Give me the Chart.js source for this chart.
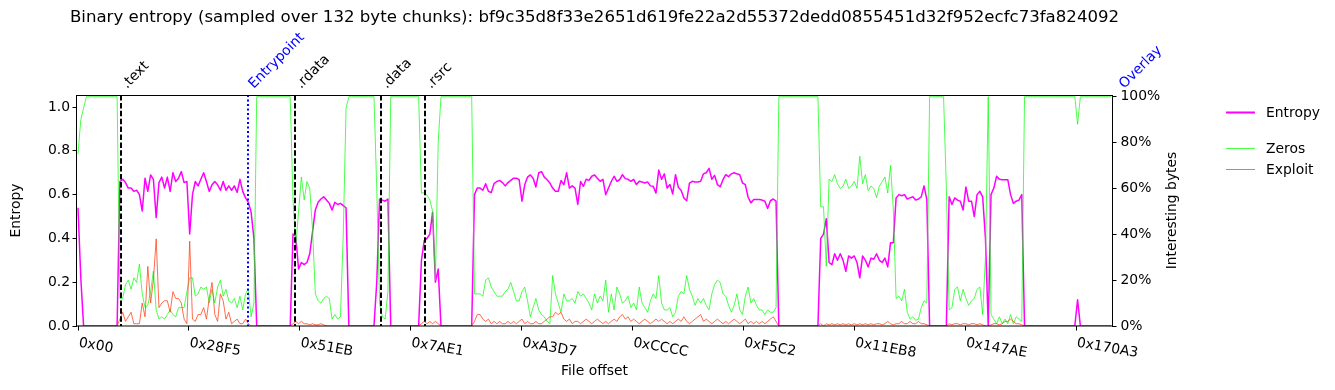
<!DOCTYPE html>
<html>
<head>
<meta charset="utf-8">
<script src="https://cdn.jsdelivr.net/npm/chart.js@4.4.1/dist/chart.umd.min.js"></script>
<style>
  html, body { margin: 0; padding: 0; background: #fff; }
</style>
</head>
<body>
<canvas id="chart" width="1335" height="390"></canvas>
<script>
// Values, one every second 132-byte chunk
const CHUNK_SIZE = 132;
const SAMPLE_STEP = 2 * CHUNK_SIZE;
const FILE_HASH = "bf9c35d8f33e2651d619fe22a2d55372dedd0855451d32f952ecfc73fa824092";

// Entropy (0..1), left axis
const ENTROPY = [
  0.54, 0.22, 0, 0, 0, 0, 0, 0, 0, 0,
  0, 0, 0, 0, 0, 0.66, 0.67, 0.655, 0.63, 0.63,
  0.615, 0.62, 0.6, 0.525, 0.675, 0.615, 0.69, 0.67, 0.495, 0.655,
  0.68, 0.63, 0.68, 0.615, 0.7, 0.66, 0.675, 0.705, 0.655, 0.66,
  0.42, 0.6, 0.66, 0.64, 0.67, 0.7, 0.66, 0.615, 0.645, 0.66,
  0.645, 0.62, 0.66, 0.62, 0.64, 0.62, 0.64, 0.61, 0.67, 0.615,
  0.585, 0.565, 0.52, 0.4, 0, 0, 0, 0, 0, 0,
  0, 0, 0, 0, 0, 0, 0, 0.42, 0.41, 0.26,
  0.29, 0.28, 0.29, 0.33, 0.43, 0.53, 0.565, 0.58, 0.59, 0.575,
  0.56, 0.53, 0.565, 0.555, 0.56, 0.55, 0.54, 0, 0, 0,
  0, 0, 0, 0, 0, 0, 0, 0.2, 0.58, 0.575,
  0.57, 0.58, 0, 0, 0, 0, 0, 0, 0, 0,
  0, 0, 0, 0.3, 0.39, 0.4, 0.42, 0.52, 0.2, 0.26,
  0, 0, 0, 0, 0, 0, 0, 0, 0, 0,
  0, 0, 0.6, 0.63, 0.63, 0.62, 0.65, 0.615, 0.61, 0.65,
  0.66, 0.665, 0.655, 0.64, 0.655, 0.665, 0.675, 0.675, 0.668, 0.57,
  0.645, 0.68, 0.69, 0.675, 0.635, 0.7, 0.705, 0.68, 0.668, 0.653,
  0.63, 0.615, 0.615, 0.665, 0.645, 0.7, 0.63, 0.64, 0.63, 0.555,
  0.66, 0.638, 0.67, 0.665, 0.684, 0.69, 0.675, 0.661, 0.67, 0.6,
  0.63, 0.66, 0.684, 0.661, 0.668, 0.691, 0.673, 0.67, 0.661, 0.67,
  0.646, 0.661, 0.658, 0.653, 0.658, 0.64, 0.638, 0.607, 0.712, 0.67,
  0.695, 0.63, 0.646, 0.603, 0.691, 0.634, 0.62, 0.585, 0.572, 0.653,
  0.661, 0.658, 0.658, 0.661, 0.695, 0.7, 0.72, 0.67, 0.688, 0.646,
  0.636, 0.668, 0.691, 0.682, 0.695, 0.7, 0.695, 0.691, 0.653, 0.646,
  0.588, 0.562, 0.578, 0.578, 0.578, 0.575, 0.57, 0.537, 0.572, 0.58,
  0.57, 0, 0, 0, 0, 0, 0, 0, 0, 0,
  0, 0, 0, 0, 0, 0, 0.4, 0.42, 0.49, 0.29,
  0.28, 0.33, 0.3, 0.33, 0.3, 0.25, 0.32, 0.31, 0.32, 0.29,
  0.22, 0.32, 0.3, 0.27, 0.31, 0.305, 0.33, 0.3, 0.29, 0.31,
  0.27, 0.38, 0.38, 0.585, 0.6, 0.595, 0.6, 0.58, 0.585, 0.59,
  0.575, 0.58, 0.59, 0.64, 0.578, 0, 0, 0, 0, 0,
  0, 0, 0.59, 0.555, 0.585, 0.575, 0.57, 0.53, 0.635, 0.57,
  0.57, 0.5, 0.6, 0.615, 0.59, 0.4, 0, 0.6, 0.63, 0.684,
  0.67, 0.668, 0.668, 0.668, 0.6, 0.56, 0.57, 0.575, 0.6, 0,
  0, 0, 0, 0, 0, 0, 0, 0, 0, 0,
  0, 0, 0, 0, 0, 0, 0, 0, 0.12, 0,
  0, 0, 0, 0, 0, 0, 0, 0, 0, 0,
  0
];

// Zero bytes (%), right axis
const ZEROS = [
  75, 90, 95, 100, 100, 100, 100, 100, 100, 100,
  100, 100, 100, 100, 100, 12, 12, 18, 20, 16,
  21, 19, 27, 14, 8, 9, 15, 24, 7, 3,
  4, 3, 5, 7, 5, 4, 8, 8, 8, 15,
  21, 21, 13, 14, 17, 16, 17, 10, 16, 10,
  17, 20, 13, 16, 11, 10, 12, 8, 13, 7,
  14, 16, 4, 10, 100, 100, 100, 100, 100, 100,
  100, 100, 100, 100, 100, 100, 100, 55, 35, 50,
  65, 55, 63, 60, 42, 14, 11, 10, 12, 13,
  12, 3, 5, 3, 4, 40, 95, 100, 100, 100,
  100, 100, 100, 100, 100, 100, 100, 60, 10, 4,
  3, 15, 100, 100, 100, 100, 100, 100, 100, 100,
  100, 100, 100, 58, 58, 57, 55, 50, 20, 80,
  100, 100, 100, 100, 100, 100, 100, 100, 100, 100,
  100, 100, 14, 14, 14, 13, 20, 21, 17, 15,
  13, 13, 13, 15, 16, 19, 15, 11, 11, 15,
  17, 11, 4, 8, 12, 7, 5, 4, 2, 1,
  22, 14, 10, 6, 14, 11, 11, 12, 10, 15,
  13, 14, 12, 10, 7, 14, 10, 13, 11, 20,
  6, 14, 7, 17, 14, 10, 11, 13, 8, 10,
  7, 17, 10, 8, 6, 11, 14, 12, 22, 10,
  7, 7, 8, 4, 6, 13, 15, 14, 22, 16,
  13, 9, 12, 10, 12, 9, 7, 14, 18, 20,
  19, 14, 13, 9, 6, 9, 14, 7, 5, 13,
  17, 10, 12, 9, 7, 7, 5, 7, 6, 6,
  8, 100, 100, 100, 100, 100, 100, 100, 100, 100,
  100, 100, 100, 100, 100, 100, 52, 52, 26, 64,
  63, 66, 62, 60, 61, 64, 60, 61, 63, 60,
  74, 62, 66, 59, 61, 60, 56, 61, 63, 65,
  58, 70, 51, 12, 13, 11, 16, 6, 3, 4,
  2.5, 3, 8, 11, 10, 100, 100, 100, 100, 100,
  100, 60, 7, 8, 16, 17, 11, 16, 12, 9,
  11, 12, 16, 17, 5, 30, 100, 5, 3, 1,
  4, 1, 3, 1, 5, 1, 4, 3, 2, 100,
  100, 100, 100, 100, 100, 100, 100, 100, 100, 100,
  100, 100, 100, 100, 100, 100, 100, 100, 88, 100,
  100, 100, 100, 100, 100, 100, 100, 100, 100, 100,
  100
];

// Exploit-like bytes (%), right axis
const EXPLOIT = [
  0, 0, 0, 0, 0, 0, 0, 0, 0, 0,
  0, 0, 0, 0, 0, 3, 6, 2, 4, 6,
  1, 1, 1, 10, 4, 26, 10, 20, 38, 8,
  10, 11, 11, 6, 15, 12, 12, 10, 3, 1,
  37, 3, 2, 5, 5, 8, 3, 12, 19, 5,
  2, 14, 11, 3, 6, 1, 2, 3, 1, 1,
  3, 1, 0, 0, 0, 0, 0, 0, 0, 0,
  0, 0, 0, 0, 0, 0, 0, 1, 2, 1,
  2, 1, 1, 0.5, 1, 0.5, 0.5, 1, 0.5, 0,
  0, 0, 0, 0, 0, 0, 0, 0, 0, 0,
  0, 0, 0, 0, 0, 0, 0, 0, 0, 0,
  0, 0, 0, 0, 0, 0, 0, 0, 0, 0,
  0, 0, 0, 1, 2, 1, 2, 1, 2, 1,
  0, 0, 0, 0, 0, 0, 0, 0, 0, 0,
  0, 0, 2, 5, 5, 3, 2, 3, 1, 2,
  1, 2, 1, 1, 2, 1, 2, 1, 2, 3,
  1, 2, 1, 1, 2, 1, 1, 2, 3, 4,
  4, 6, 5, 6, 3, 2, 3, 1, 2, 2,
  1, 2, 3, 2, 1, 2, 3, 2, 1, 2,
  1, 2, 3, 2, 4, 5, 3, 4, 2, 3,
  2, 1, 2, 3, 2, 1, 2, 3, 2, 3,
  2, 1, 2, 1, 2, 3, 2, 4, 2, 1,
  2, 3, 4, 5, 2, 3, 2, 1, 2, 3,
  2, 1, 2, 1, 2, 3, 2, 1, 2, 3,
  1, 2, 1, 2, 1, 2, 1, 2, 3, 4,
  2, 0, 0, 0, 0, 0, 0, 0, 0, 0,
  0, 0, 0, 0, 0, 0, 1, 0, 1, 0.5,
  1, 0.5, 1, 0.5, 1, 0.5, 1, 0.5, 1, 0.5,
  1, 0.5, 1, 0.5, 1, 0.5, 1, 1, 0.5, 1,
  2, 1, 0.5, 1, 1, 2, 1, 1, 2, 1,
  1, 2, 1, 1, 0.5, 0, 0, 0, 0, 0,
  0, 0, 1, 0.5, 1, 1, 0.5, 1, 1, 0.5,
  1, 1, 0.5, 1, 0.5, 0, 0, 0.5, 1, 1,
  0.5, 1, 2, 2, 3, 2, 1, 1, 0.5, 0,
  0, 0, 0, 0, 0, 0, 0, 0, 0, 0,
  0, 0, 0, 0, 0, 0, 0, 0, 0, 0,
  0, 0, 0, 0, 0, 0, 0, 0, 0, 0,
  0
];

const X_TICK_LABELS = ["0x00", "0x28F5", "0x51EB", "0x7AE1", "0xA3D7", "0xCCCC", "0xF5C2", "0x11EB8", "0x147AE", "0x170A3"];
const ENTROPY_TICKS = [0, 0.2, 0.4, 0.6, 0.8, 1.0];
const PERCENT_TICKS = [0, 20, 40, 60, 80, 100];

// Section starts (byte offsets)
const SECTION_NAMES = [".text", ".rdata", ".data", ".rsrc"];
const SECTION_OFFSETS = [4060, 20517, 28620, 32809];
const ENTRYPOINT_OFFSET = 16045;
const OVERLAY_OFFSET = 98350;

const ENTROPY_COLOR = "#ff00ff";
const ZEROS_COLOR = "rgba(0,255,0,0.7)";
const EXPLOIT_COLOR = "rgba(255,60,20,0.75)";
const FONT = "'DejaVu Sans', sans-serif";

Chart.defaults.font.family = FONT;
Chart.defaults.font.size = 13.9;
Chart.defaults.color = "#000";

const toPoints = (values) => values.map((v, i) => ({ x: i * SAMPLE_STEP, y: v }));

const tickGrid = { drawOnChartArea: false, drawTicks: true, tickLength: 4.5, tickWidth: 1, tickColor: "#000" };

//Draws frame, section markers, rotated labels, title and legend
const decorations = {
  id: "decorations",
  afterDatasetsDraw(chart) {
    const { ctx, chartArea: a, scales: { x } } = chart;
    ctx.save();
    ctx.lineWidth = 2;
    ctx.strokeStyle = "#000";
    ctx.setLineDash([5.5, 2.4]);
    SECTION_OFFSETS.forEach((off) => {
      const px = Math.round(x.getPixelForValue(off));
      ctx.beginPath();
      ctx.moveTo(px, a.top);
      ctx.lineTo(px, a.bottom);
      ctx.stroke();
    });
    ctx.strokeStyle = "#0000ff";
    ctx.setLineDash([2, 2.5]);
    const ep = Math.round(x.getPixelForValue(ENTRYPOINT_OFFSET));
    ctx.beginPath();
    ctx.moveTo(ep, a.top);
    ctx.lineTo(ep, a.bottom);
    ctx.stroke();
    ctx.restore();
  },
  afterDraw(chart) {
    const { ctx, chartArea: a, scales: { x } } = chart;
    ctx.save();

    // frame
    ctx.lineWidth = 1;
    ctx.strokeStyle = "#000";
    ctx.strokeRect(Math.round(a.left) - 0.5, Math.round(a.top) + 0.5, Math.round(a.right - a.left) + 1, Math.round(a.bottom - a.top) - 0.5);

    // section labels, rotated 45 degrees
    ctx.font = "13.9px " + FONT;
    ctx.textAlign = "left";
    ctx.textBaseline = "alphabetic";
    const marks = SECTION_NAMES.map((n, i) => [n, SECTION_OFFSETS[i], "#000"]);
    marks.push(["Entrypoint", ENTRYPOINT_OFFSET, "#0000ff"]);
    marks.push(["Overlay", OVERLAY_OFFSET, "#0000ff"]);
    marks.forEach(([name, off, color]) => {
      ctx.save();
      ctx.fillStyle = color;
      ctx.translate(x.getPixelForValue(off) + 6, a.top - 6);
      ctx.rotate(-Math.PI / 4);
      ctx.fillText(name, 0, 0);
      ctx.restore();
    });

    // x tick labels, tilted clockwise
    ctx.fillStyle = "#000";
    ctx.textBaseline = "top";
    X_TICK_LABELS.forEach((label) => {
      ctx.save();
      ctx.translate(x.getPixelForValue(parseInt(label, 16)) + 2, a.bottom + 10);
      ctx.rotate(10 * Math.PI / 180);
      ctx.fillText(label, 0, 0);
      ctx.restore();
    });

    // right axis title
    ctx.save();
    ctx.translate(1172, (a.top + a.bottom) / 2);
    ctx.rotate(-Math.PI / 2);
    ctx.textAlign = "center";
    ctx.textBaseline = "middle";
    ctx.fillText("Interesting bytes", 0, 0);
    ctx.restore();

    // title
    ctx.font = "16.6px " + FONT;
    ctx.textAlign = "center";
    ctx.textBaseline = "middle";
    ctx.fillText("Binary entropy (sampled over " + CHUNK_SIZE + " byte chunks): " + FILE_HASH, (a.left + a.right) / 2, 18);

    // legend
    const legend = [
      ["Entropy", ENTROPY_COLOR, 2, 112.5],
      ["Zeros", ZEROS_COLOR, 1, 148.5],
      ["Exploit", EXPLOIT_COLOR, 1, 169.5],
    ];
    ctx.font = "13.9px " + FONT;
    ctx.textAlign = "left";
    legend.forEach(([label, color, w, y]) => {
      ctx.strokeStyle = color;
      ctx.lineWidth = w;
      ctx.beginPath();
      ctx.moveTo(1226, y);
      ctx.lineTo(1255, y);
      ctx.stroke();
      ctx.fillStyle = "#000";
      ctx.fillText(label, 1266, y + 0.5);
    });
    ctx.restore();
  },
};

new Chart(document.getElementById("chart"), {
  type: "line",
  data: {
    datasets: [
      { label: "Exploit", data: toPoints(EXPLOIT), yAxisID: "y1", borderColor: EXPLOIT_COLOR, borderWidth: 1, order: 1 },
      { label: "Zeros", data: toPoints(ZEROS), yAxisID: "y1", borderColor: ZEROS_COLOR, borderWidth: 1, order: 2 },
      { label: "Entropy", data: toPoints(ENTROPY), yAxisID: "y", borderColor: ENTROPY_COLOR, borderWidth: 1.5, order: 3 },
    ],
  },
  options: {
    responsive: false,
    animation: false,
    events: [],
    layout: { padding: { top: 95, left: 0, right: 0, bottom: 0 } },
    elements: { point: { radius: 0 }, line: { tension: 0, fill: false, borderJoinStyle: "round" } },
    plugins: { legend: { display: false }, tooltip: { enabled: false } },
    scales: {
      x: {
        type: "linear",
        min: -95,
        max: 97765,
        afterBuildTicks: (s) => { s.ticks = X_TICK_LABELS.map((l) => ({ value: parseInt(l, 16) })); },
        afterFit: (s) => { s.height = 64; },
        grid: tickGrid,
        border: { display: false },
        ticks: { color: "rgba(0,0,0,0)", autoSkip: false, maxRotation: 0, minRotation: 0 },
        title: { display: true, text: "File offset", padding: { top: 0, bottom: 10.7 } },
      },
      y: {
        position: "left",
        min: 0,
        max: 1.055,
        afterBuildTicks: (s) => { s.ticks = ENTROPY_TICKS.map((v) => ({ value: v })); },
        afterFit: (s) => { s.width = 77; },
        grid: tickGrid,
        border: { display: false },
        ticks: { padding: 2.5, callback: (v) => v.toFixed(1) },
        title: { display: true, text: "Entropy", padding: { top: 8, bottom: 0 } },
      },
      y1: {
        position: "right",
        min: 0,
        max: 100.74,
        afterBuildTicks: (s) => { s.ticks = PERCENT_TICKS.map((v) => ({ value: v })); },
        afterFit: (s) => { s.width = 223; },
        grid: tickGrid,
        border: { display: false },
        ticks: { padding: 4, callback: (v) => v + "%" },
      },
    },
  },
  plugins: [decorations],
});
</script>
</body>
</html>
